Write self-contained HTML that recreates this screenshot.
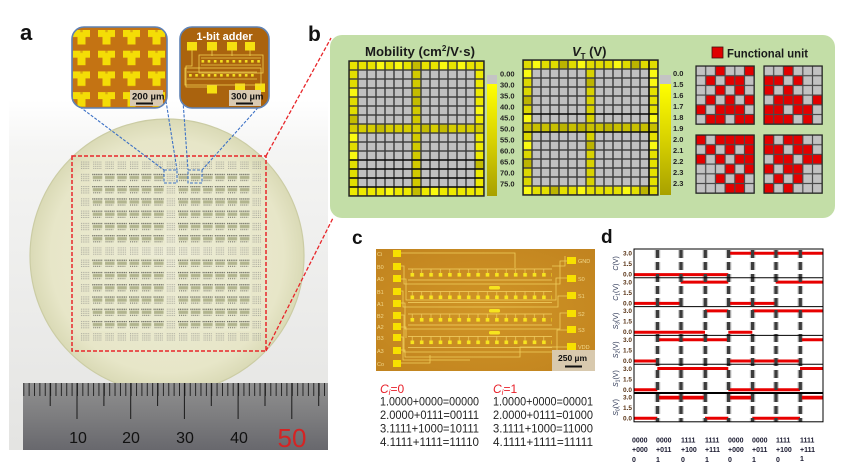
<!DOCTYPE html>
<html><head><meta charset="utf-8">
<style>
html,body{margin:0;padding:0;background:#fff;}
svg{display:block;}
text{font-family:"Liberation Sans",Arial,sans-serif;}
</style></head><body>
<svg width="844" height="470" viewBox="0 0 844 470" xmlns="http://www.w3.org/2000/svg">
<defs>
 <linearGradient id="photoBg" x1="0" y1="0" x2="0" y2="1">
  <stop offset="0" stop-color="#ffffff"/>
  <stop offset="0.15" stop-color="#f4f4f3"/>
  <stop offset="1" stop-color="#e4e4e2"/>
 </linearGradient>
 <radialGradient id="waf" cx="0.5" cy="0.5" r="0.5">
  <stop offset="0" stop-color="#edecd6"/>
  <stop offset="0.85" stop-color="#e7e6c8"/>
  <stop offset="1" stop-color="#dadab6"/>
 </radialGradient>
 <linearGradient id="rul" x1="0" y1="0" x2="0" y2="1">
  <stop offset="0" stop-color="#909090"/>
  <stop offset="0.5" stop-color="#7d7d7f"/>
  <stop offset="1" stop-color="#68686d"/>
 </linearGradient>
 <linearGradient id="cb" x1="0" y1="0" x2="0" y2="1">
  <stop offset="0" stop-color="#ffff00"/>
  <stop offset="0.5" stop-color="#d8d200"/>
  <stop offset="1" stop-color="#a8a000"/>
 </linearGradient>
 <radialGradient id="cph" cx="0.5" cy="0.5" r="0.7">
  <stop offset="0" stop-color="#d09526"/>
  <stop offset="1" stop-color="#c1831f"/>
 </radialGradient>
 <pattern id="tick" x="23.3" y="383" width="5.37" height="30" patternUnits="userSpaceOnUse">
  <rect x="0" y="0" width="0.9" height="13" fill="#1c1c1c"/>
 </pattern>
 <pattern id="dieT" x="79" y="159.6" width="12.26" height="12.26" patternUnits="userSpaceOnUse">
  <g stroke="#a2a298" stroke-width="1" stroke-dasharray="0.9 0.9">
   <line x1="2" y1="2.5" x2="10.5" y2="2.5"/>
   <line x1="2" y1="4.6" x2="10.5" y2="4.6"/>
   <line x1="2" y1="6.7" x2="10.5" y2="6.7"/>
   <line x1="2" y1="8.8" x2="10.5" y2="8.8"/>
  </g>
 </pattern>
 <pattern id="dieA" x="79" y="159.6" width="12.26" height="12.26" patternUnits="userSpaceOnUse">
  <line x1="1" y1="2.6" x2="11" y2="2.6" stroke="#5f5f56" stroke-width="1.2" stroke-dasharray="1.1 0.7"/>
  <rect x="1.5" y="4" width="9.5" height="3.2" fill="#b2b58f"/>
  <line x1="2" y1="8.6" x2="10" y2="8.6" stroke="#74746a" stroke-width="1.1" stroke-dasharray="1 0.9"/>
 </pattern>
 <pattern id="ypad" x="73" y="30" width="25" height="20.7" patternUnits="userSpaceOnUse">
  <rect x="0" y="0" width="17" height="7" fill="#f4dd06"/>
  <rect x="4.5" y="6" width="8" height="8.5" fill="#f4dd06"/>
  <rect x="7.3" y="0" width="2.4" height="2.2" fill="#d8a810"/>
 </pattern>
 <pattern id="ch2" x="200" y="57" width="6.2" height="14" patternUnits="userSpaceOnUse">
  <line x1="0" y1="1" x2="6.2" y2="1" stroke="#f0d050" stroke-width="0.7"/>
  <rect x="1.5" y="3" width="2.6" height="2.6" fill="#f4e020"/>
  <line x1="0" y1="8" x2="6.2" y2="8" stroke="#f0d050" stroke-width="0.7"/>
 </pattern>
 <pattern id="chain" x="408" y="268" width="9.4" height="22.5" patternUnits="userSpaceOnUse">
  <line x1="0" y1="1" x2="9.4" y2="1" stroke="#f2d060" stroke-width="0.8"/>
  <line x1="4.2" y1="1" x2="4.2" y2="5" stroke="#f2d060" stroke-width="0.7"/>
  <rect x="2.5" y="5" width="3.6" height="3.6" fill="#f7e41e"/>
  <line x1="0" y1="12" x2="9.4" y2="12" stroke="#f2d060" stroke-width="0.8"/>
 </pattern>
 <pattern id="hg" x="0" y="0" width="9" height="9" patternUnits="userSpaceOnUse">
  <rect x="0" y="0" width="9" height="9" fill="none" stroke="#3a3a3a" stroke-width="1.4"/>
 </pattern>
 <pattern id="fg" x="0" y="0" width="9.7" height="9.7" patternUnits="userSpaceOnUse">
  <rect x="0" y="0" width="9.7" height="9.7" fill="none" stroke="#4a4a4a" stroke-width="1.2"/>
 </pattern>
</defs>

<!-- ================= Panel a ================= -->
<rect x="9" y="100" width="319" height="350" fill="url(#photoBg)"/>
<circle cx="167" cy="256" r="137" fill="url(#waf)" stroke="#cbcca4" stroke-width="1.2"/>
<rect x="79" y="159.6" width="184" height="184" fill="url(#dieT)"/>
<g fill="#eaeacf">
 <rect x="91.3" y="171.9" width="73.5" height="73.5"/>
 <rect x="177.1" y="171.9" width="73.5" height="73.5"/>
 <rect x="91.3" y="257.7" width="73.5" height="73.5"/>
 <rect x="177.1" y="257.7" width="73.5" height="73.5"/>
</g>
<g fill="url(#dieA)">
 <rect x="91.3" y="171.9" width="73.5" height="73.5"/>
 <rect x="177.1" y="171.9" width="73.5" height="73.5"/>
 <rect x="91.3" y="257.7" width="73.5" height="73.5"/>
 <rect x="177.1" y="257.7" width="73.5" height="73.5"/>
</g>
<rect x="72" y="156" width="194" height="195" fill="none" stroke="#e8262a" stroke-width="1.5" stroke-dasharray="4 2"/>
<g stroke="#e8262a" stroke-width="1.3" stroke-dasharray="4 2">
 <line x1="266" y1="156" x2="331" y2="38"/>
 <line x1="266" y1="351" x2="333" y2="218"/>
</g>
<g fill="none" stroke="#3d72c6" stroke-width="1.1" stroke-dasharray="3 1.5">
 <rect x="164" y="170" width="13" height="13"/>
 <rect x="188" y="170" width="14" height="13"/>
 <line x1="80" y1="107" x2="164" y2="170"/>
 <line x1="166" y1="101" x2="177" y2="170"/>
 <line x1="183" y1="101" x2="188" y2="170"/>
 <line x1="264" y1="101" x2="202" y2="170"/>
</g>

<!-- ruler -->
<rect x="23" y="383" width="305" height="67" fill="url(#rul)"/>
<rect x="23.3" y="383" width="304" height="13" fill="url(#tick)"/>
<g stroke="#1a1a1a" stroke-width="1">
 <line x1="50.2" y1="383" x2="50.2" y2="406"/>
 <line x1="103.9" y1="383" x2="103.9" y2="406"/>
 <line x1="157.6" y1="383" x2="157.6" y2="406"/>
 <line x1="211.3" y1="383" x2="211.3" y2="406"/>
 <line x1="265" y1="383" x2="265" y2="406"/>
 <line x1="318.7" y1="383" x2="318.7" y2="406"/>
 <line x1="77" y1="383" x2="77" y2="419"/>
 <line x1="130.7" y1="383" x2="130.7" y2="419"/>
 <line x1="184.4" y1="383" x2="184.4" y2="419"/>
 <line x1="238.1" y1="383" x2="238.1" y2="419"/>
 <line x1="291.8" y1="383" x2="291.8" y2="419"/>
</g>
<g font-size="16" fill="#111" text-anchor="middle">
 <text x="78" y="443">10</text>
 <text x="131" y="443">20</text>
 <text x="185" y="443">30</text>
 <text x="239" y="443">40</text>
</g>
<text x="292" y="447" font-size="26" fill="#d42424" text-anchor="middle">50</text>

<!-- inset 1 -->
<g>
 <rect x="72" y="27" width="95" height="81" rx="12" fill="#c47313"/>
 <clipPath id="ci1"><rect x="72" y="27" width="95" height="81" rx="12"/></clipPath>
 <rect x="72" y="27" width="95" height="81" fill="url(#ypad)" clip-path="url(#ci1)"/>
 <rect x="130" y="90" width="33" height="16" fill="#d9cab2"/>
 <text x="132" y="99.5" font-size="9.5" font-weight="bold" fill="#111">200 µm</text>
 <rect x="136" y="102.5" width="17" height="2" fill="#111"/>
 <rect x="72" y="27" width="95" height="81" rx="12" fill="none" stroke="#5f82b4" stroke-width="1.6"/>
</g>
<!-- inset 2 -->
<g>
 <rect x="180" y="27" width="89" height="81" rx="12" fill="#aa630e"/>
 <text x="224.5" y="40" font-size="11" font-weight="bold" fill="#ffffff" text-anchor="middle">1-bit adder</text>
 <g fill="#f5e010">
  <rect x="187" y="42" width="10" height="8.5"/>
  <rect x="207" y="42" width="10" height="8.5"/>
  <rect x="227" y="42" width="10" height="8.5"/>
  <rect x="245" y="42" width="10" height="8.5"/>
  <rect x="207" y="85" width="10" height="8.5"/>
  <rect x="235" y="83.5" width="10" height="8.5"/>
  <rect x="255" y="83.5" width="10" height="8.5"/>
 </g>
 <rect x="201" y="57" width="60" height="14" fill="url(#ch2)"/>
 <rect x="187" y="69" width="70" height="14" fill="url(#ch2)"/>
 <g fill="none" stroke="#f0d050" stroke-width="0.8">
  <rect x="199" y="55" width="64" height="18"/>
  <rect x="185" y="68" width="76" height="17"/>
  <polyline points="192,50 192,66 186,66 186,87 207,87"/>
  <polyline points="212,50 212,56"/>
  <polyline points="232,50 232,56"/>
  <polyline points="250,50 250,56"/>
 </g>
 <rect x="229" y="90" width="32" height="16" fill="#d9cab2"/>
 <text x="231" y="99.5" font-size="9.5" font-weight="bold" fill="#111">300 µm</text>
 <rect x="236" y="102.5" width="17" height="2" fill="#111"/>
 <rect x="180" y="27" width="89" height="81" rx="12" fill="none" stroke="#5f82b4" stroke-width="1.6"/>
</g>

<text x="20" y="40" font-size="22" font-weight="bold" fill="#111">a</text>
<text x="308" y="41" font-size="21" font-weight="bold" fill="#111">b</text>

<!-- ================= Panel b ================= -->
<rect x="330" y="35" width="505" height="183" rx="12" fill="#c3dea7"/>
<text x="365" y="56" font-size="13" font-weight="bold" fill="#1a1a1a" textLength="110" lengthAdjust="spacingAndGlyphs">Mobility (cm<tspan font-size="8" dy="-5">2</tspan><tspan dy="5">/V·s)</tspan></text>
<text x="572" y="56" font-size="13" font-weight="bold" fill="#1a1a1a"><tspan font-style="italic">V</tspan><tspan font-size="8" dy="3">T</tspan><tspan dy="-3"> (V)</tspan></text>

<!-- heatmap mobility -->
<g transform="translate(349,61)">
 <rect x="0" y="0" width="135" height="135" fill="#c0c0c0"/>
 <rect x="0" y="0" width="135" height="9" fill="#e8e400"/>
 <rect x="0" y="126" width="135" height="9" fill="#eeea00"/>
 <rect x="0" y="9" width="9" height="117" fill="#e2de00"/>
 <rect x="126" y="9" width="9" height="117" fill="#eeea00"/>
 <rect x="63" y="9" width="9" height="117" fill="#d2ca00"/>
 <rect x="0" y="63" width="135" height="9" fill="#d6ce00"/>
 <g fill="#fafa10">
  <rect x="27" y="0" width="9" height="9"/><rect x="45" y="0" width="9" height="9"/>
  <rect x="90" y="0" width="9" height="9"/><rect x="108" y="0" width="9" height="9"/>
  <rect x="81" y="126" width="9" height="9"/><rect x="36" y="126" width="9" height="9"/>
  <rect x="0" y="27" width="9" height="9"/><rect x="0" y="72" width="9" height="9"/>
  <rect x="0" y="90" width="9" height="9"/><rect x="126" y="45" width="9" height="9"/>
 </g>
 <g fill="#c4bc00">
  <rect x="63" y="0" width="9" height="9"/><rect x="63" y="27" width="9" height="18"/>
  <rect x="27" y="63" width="9" height="9"/><rect x="72" y="63" width="9" height="9"/>
  <rect x="90" y="63" width="9" height="9"/><rect x="63" y="126" width="9" height="9"/>
  <rect x="0" y="54" width="9" height="9"/><rect x="126" y="99" width="9" height="9"/>
 </g>
 <rect x="0" y="0" width="135" height="135" fill="url(#hg)"/>
 <g stroke="#000" stroke-width="1.2">
  <line x1="0" y1="99" x2="135" y2="99"/><line x1="0" y1="108" x2="135" y2="108"/>
  <line x1="0" y1="117" x2="135" y2="117"/><line x1="0" y1="126" x2="135" y2="126"/>
 </g>
 <rect x="0" y="0" width="135" height="135" fill="none" stroke="#222" stroke-width="1.4"/>
</g>
<rect x="487" y="75" width="10" height="9" fill="#c4c4c4"/>
<rect x="487" y="84" width="10" height="112" fill="url(#cb)"/>
<g font-size="7.5" font-weight="bold" fill="#222">
 <text x="500" y="76.7">0.00</text>
 <text x="500" y="87.7">30.0</text>
 <text x="500" y="98.7">35.0</text>
 <text x="500" y="109.7">40.0</text>
 <text x="500" y="120.7">45.0</text>
 <text x="500" y="131.7">50.0</text>
 <text x="500" y="142.7">55.0</text>
 <text x="500" y="153.7">60.0</text>
 <text x="500" y="164.7">65.0</text>
 <text x="500" y="175.7">70.0</text>
 <text x="500" y="186.7">75.0</text>
</g>

<!-- heatmap VT -->
<g transform="translate(523,60)">
 <rect x="0" y="0" width="135" height="135" fill="#c0c0c0"/>
 <rect x="0" y="0" width="135" height="9" fill="#e0dc00"/>
 <rect x="0" y="126" width="135" height="9" fill="#e4e000"/>
 <rect x="0" y="9" width="9" height="117" fill="#dcd800"/>
 <rect x="126" y="9" width="9" height="117" fill="#e6e200"/>
 <rect x="63" y="9" width="9" height="117" fill="#d8d200"/>
 <rect x="0" y="63" width="135" height="9" fill="#c8c000"/>
 <g fill="#fafa12">
  <rect x="9" y="0" width="9" height="9"/><rect x="54" y="0" width="9" height="9"/>
  <rect x="90" y="0" width="9" height="9"/><rect x="0" y="126" width="9" height="9"/>
  <rect x="54" y="126" width="9" height="9"/><rect x="99" y="126" width="9" height="9"/>
  <rect x="0" y="9" width="9" height="9"/><rect x="0" y="54" width="9" height="9"/>
  <rect x="0" y="81" width="9" height="9"/><rect x="126" y="9" width="9" height="18"/>
  <rect x="126" y="54" width="9" height="9"/><rect x="126" y="81" width="9" height="9"/>
 </g>
 <g fill="#bcb400">
  <rect x="36" y="0" width="9" height="9"/><rect x="108" y="0" width="9" height="9"/>
  <rect x="27" y="126" width="9" height="9"/><rect x="117" y="126" width="9" height="9"/>
  <rect x="0" y="36" width="9" height="9"/><rect x="0" y="99" width="9" height="9"/>
  <rect x="63" y="18" width="9" height="9"/><rect x="63" y="81" width="9" height="9"/>
  <rect x="36" y="63" width="9" height="9"/><rect x="81" y="63" width="9" height="9"/>
  <rect x="54" y="63" width="9" height="9"/>
 </g>
 <rect x="0" y="0" width="135" height="135" fill="url(#hg)"/>
 <g stroke="#000" stroke-width="1.3">
  <line x1="0" y1="54" x2="135" y2="54"/><line x1="0" y1="72" x2="135" y2="72"/>
  <line x1="126" y1="0" x2="126" y2="135"/>
 </g>
 <rect x="0" y="0" width="135" height="135" fill="none" stroke="#222" stroke-width="1.4"/>
</g>
<rect x="660" y="75" width="11" height="9" fill="#c4c4c4"/>
<rect x="660" y="84" width="11" height="111" fill="url(#cb)"/>
<g font-size="7.5" font-weight="bold" fill="#222">
 <text x="673" y="76">0.0</text>
 <text x="673" y="87">1.5</text>
 <text x="673" y="98">1.6</text>
 <text x="673" y="109">1.7</text>
 <text x="673" y="120">1.8</text>
 <text x="673" y="131">1.9</text>
 <text x="673" y="142">2.0</text>
 <text x="673" y="153">2.1</text>
 <text x="673" y="164">2.2</text>
 <text x="673" y="175">2.3</text>
 <text x="673" y="186">2.3</text>
</g>

<!-- functional unit legend -->
<rect x="712" y="47" width="11" height="11" fill="#e00000" stroke="#401010" stroke-width="0.8"/>
<text x="727" y="57.5" font-size="12" font-weight="bold" fill="#1a1a1a" textLength="81" lengthAdjust="spacingAndGlyphs">Functional unit</text>

<!-- grid 1 -->
<g transform="translate(696,66)">
 <rect width="58.2" height="58.2" fill="#c2c2c2"/>
 <g fill="#e20000">
  <rect x="19.4" y="0" width="9.7" height="9.7"/><rect x="48.5" y="0" width="9.7" height="9.7"/>
  <rect x="9.7" y="9.7" width="9.7" height="9.7"/><rect x="29.1" y="9.7" width="9.7" height="9.7"/><rect x="38.8" y="9.7" width="9.7" height="9.7"/>
  <rect x="19.4" y="19.4" width="9.7" height="9.7"/><rect x="38.8" y="19.4" width="9.7" height="9.7"/>
  <rect x="9.7" y="29.1" width="9.7" height="9.7"/><rect x="29.1" y="29.1" width="9.7" height="9.7"/><rect x="48.5" y="29.1" width="9.7" height="9.7"/>
  <rect x="0" y="38.8" width="9.7" height="9.7"/><rect x="19.4" y="38.8" width="9.7" height="9.7"/><rect x="29.1" y="38.8" width="9.7" height="9.7"/><rect x="38.8" y="38.8" width="9.7" height="9.7"/>
  <rect x="9.7" y="48.5" width="9.7" height="9.7"/><rect x="19.4" y="48.5" width="9.7" height="9.7"/><rect x="38.8" y="48.5" width="9.7" height="9.7"/><rect x="48.5" y="48.5" width="9.7" height="9.7"/>
 </g>
 <rect width="58.2" height="58.2" fill="url(#fg)"/>
 <rect width="58.2" height="58.2" fill="none" stroke="#222" stroke-width="1.2"/>
</g>
<!-- grid 2 -->
<g transform="translate(764,66)">
 <rect width="58.2" height="58.2" fill="#c2c2c2"/>
 <g fill="#e20000">
  <rect x="19.4" y="0" width="9.7" height="9.7"/>
  <rect x="0" y="9.7" width="9.7" height="9.7"/><rect x="9.7" y="9.7" width="9.7" height="9.7"/><rect x="29.1" y="9.7" width="9.7" height="9.7"/>
  <rect x="0" y="19.4" width="9.7" height="9.7"/><rect x="19.4" y="19.4" width="9.7" height="9.7"/>
  <rect x="9.7" y="29.1" width="9.7" height="9.7"/><rect x="19.4" y="29.1" width="9.7" height="9.7"/><rect x="29.1" y="29.1" width="9.7" height="9.7"/><rect x="48.5" y="29.1" width="9.7" height="9.7"/>
  <rect x="0" y="38.8" width="9.7" height="9.7"/><rect x="9.7" y="38.8" width="9.7" height="9.7"/><rect x="29.1" y="38.8" width="9.7" height="9.7"/><rect x="38.8" y="38.8" width="9.7" height="9.7"/>
  <rect x="0" y="48.5" width="9.7" height="9.7"/><rect x="9.7" y="48.5" width="9.7" height="9.7"/><rect x="19.4" y="48.5" width="9.7" height="9.7"/><rect x="38.8" y="48.5" width="9.7" height="9.7"/>
 </g>
 <rect width="58.2" height="58.2" fill="url(#fg)"/>
 <rect width="58.2" height="58.2" fill="none" stroke="#222" stroke-width="1.2"/>
</g>
<!-- grid 3 -->
<g transform="translate(696,135)">
 <rect width="58.2" height="58.2" fill="#c2c2c2"/>
 <g fill="#e20000">
  <rect x="0" y="0" width="9.7" height="9.7"/><rect x="19.4" y="0" width="9.7" height="9.7"/><rect x="29.1" y="0" width="9.7" height="9.7"/><rect x="38.8" y="0" width="9.7" height="9.7"/><rect x="48.5" y="0" width="9.7" height="9.7"/>
  <rect x="9.7" y="9.7" width="9.7" height="9.7"/><rect x="29.1" y="9.7" width="9.7" height="9.7"/><rect x="48.5" y="9.7" width="9.7" height="9.7"/>
  <rect x="0" y="19.4" width="9.7" height="9.7"/><rect x="19.4" y="19.4" width="9.7" height="9.7"/><rect x="38.8" y="19.4" width="9.7" height="9.7"/><rect x="48.5" y="19.4" width="9.7" height="9.7"/>
  <rect x="29.1" y="29.1" width="9.7" height="9.7"/><rect x="48.5" y="29.1" width="9.7" height="9.7"/>
  <rect x="19.4" y="38.8" width="9.7" height="9.7"/><rect x="38.8" y="38.8" width="9.7" height="9.7"/>
  <rect x="29.1" y="48.5" width="9.7" height="9.7"/><rect x="38.8" y="48.5" width="9.7" height="9.7"/>
 </g>
 <rect width="58.2" height="58.2" fill="url(#fg)"/>
 <rect width="58.2" height="58.2" fill="none" stroke="#222" stroke-width="1.2"/>
</g>
<!-- grid 4 -->
<g transform="translate(764,135)">
 <rect width="58.2" height="58.2" fill="#c2c2c2"/>
 <g fill="#e20000">
  <rect x="0" y="0" width="9.7" height="9.7"/><rect x="19.4" y="0" width="9.7" height="9.7"/><rect x="29.1" y="0" width="9.7" height="9.7"/>
  <rect x="0" y="9.7" width="9.7" height="9.7"/><rect x="9.7" y="9.7" width="9.7" height="9.7"/><rect x="29.1" y="9.7" width="9.7" height="9.7"/><rect x="38.8" y="9.7" width="9.7" height="9.7"/>
  <rect x="9.7" y="19.4" width="9.7" height="9.7"/><rect x="19.4" y="19.4" width="9.7" height="9.7"/><rect x="38.8" y="19.4" width="9.7" height="9.7"/><rect x="48.5" y="19.4" width="9.7" height="9.7"/>
  <rect x="0" y="29.1" width="9.7" height="9.7"/><rect x="19.4" y="29.1" width="9.7" height="9.7"/><rect x="29.1" y="29.1" width="9.7" height="9.7"/>
  <rect x="9.7" y="38.8" width="9.7" height="9.7"/><rect x="29.1" y="38.8" width="9.7" height="9.7"/>
  <rect x="0" y="48.5" width="9.7" height="9.7"/><rect x="19.4" y="48.5" width="9.7" height="9.7"/>
 </g>
 <rect width="58.2" height="58.2" fill="url(#fg)"/>
 <rect width="58.2" height="58.2" fill="none" stroke="#222" stroke-width="1.2"/>
</g>

<!-- ================= Panel c ================= -->
<text x="352" y="244" font-size="19" font-weight="bold" fill="#111">c</text>
<rect x="376" y="249" width="219" height="122" fill="url(#cph)"/>
<g fill="#f7e000">
 <rect x="393" y="250" width="8" height="7"/><rect x="393" y="263" width="8" height="7"/>
 <rect x="393" y="275" width="8" height="7"/><rect x="393" y="288" width="8" height="7"/>
 <rect x="393" y="300" width="8" height="7"/><rect x="393" y="312" width="8" height="7"/>
 <rect x="393" y="323" width="8" height="7"/><rect x="393" y="334" width="8" height="7"/>
 <rect x="393" y="347" width="8" height="7"/><rect x="393" y="360" width="8" height="7"/>
 <rect x="567" y="257" width="9" height="7"/><rect x="567" y="275" width="9" height="7"/>
 <rect x="567" y="292" width="9" height="7"/><rect x="567" y="310" width="9" height="7"/>
 <rect x="567" y="326" width="9" height="7"/><rect x="567" y="343" width="9" height="7"/>
</g>
<g font-size="5.5" fill="#f3d98a">
 <text x="377" y="256">Ci</text><text x="377" y="269">B0</text>
 <text x="377" y="281">A0</text><text x="377" y="294">B1</text>
 <text x="377" y="306">A1</text><text x="377" y="318">B2</text>
 <text x="377" y="329">A2</text><text x="377" y="340">B3</text>
 <text x="377" y="353">A3</text><text x="377" y="366">Co</text>
 <text x="578" y="263">GND</text><text x="578" y="281">S0</text>
 <text x="578" y="298">S1</text><text x="578" y="316">S2</text>
 <text x="578" y="332">S3</text><text x="578" y="349">VDD</text>
</g>
<g fill="url(#chain)">
 <rect x="408" y="268" width="144" height="15"/>
 <rect x="408" y="290.5" width="144" height="15"/>
 <rect x="408" y="313" width="144" height="15"/>
 <rect x="408" y="335.5" width="144" height="15"/>
</g>
<g fill="none" stroke="#f0cf5c" stroke-width="0.8">
 <polyline points="401,253 515,253 515,268"/>
 <polyline points="401,266 404,266 404,284 560,284 560,261 567,261"/>
 <polyline points="401,279 406,279 406,300 556,300 556,278 567,278"/>
 <polyline points="401,291 403,291 403,307 558,307 558,296 567,296"/>
 <polyline points="401,303 405,303 405,329 560,329 560,313 567,313"/>
 <polyline points="401,315 404,315 404,352 557,352 557,330 567,330"/>
 <polyline points="401,327 406,327 406,338"/>
 <polyline points="401,337 403,337 403,360 470,360"/>
 <polyline points="401,350 405,350 405,357 520,357 520,347 567,347"/>
 <polyline points="401,363 430,363 430,355"/>
 <polyline points="552,266 565,266 565,256"/>
</g>
<g fill="#f7e41e">
 <rect x="489" y="286" width="11" height="3.5" rx="1.5"/>
 <rect x="489" y="309" width="11" height="3.5" rx="1.5"/>
 <rect x="489" y="331" width="11" height="3.5" rx="1.5"/>
</g>
<rect x="552" y="350" width="43" height="21" fill="#d8c9ae"/>
<text x="558" y="361" font-size="8.5" font-weight="bold" fill="#111">250 µm</text>
<rect x="565" y="365.5" width="17" height="2" fill="#111"/>

<g font-size="12" fill="#e8202a" font-style="italic">
 <text x="380" y="393">C<tspan font-size="8" dy="2">i</tspan><tspan dy="-2" font-style="normal">=0</tspan></text>
 <text x="493" y="393">C<tspan font-size="8" dy="2">i</tspan><tspan dy="-2" font-style="normal">=1</tspan></text>
</g>
<g font-size="11.5" fill="#222">
 <text x="380" y="405.5" textLength="99" lengthAdjust="spacingAndGlyphs">1.0000+0000=00000</text>
 <text x="380" y="419" textLength="99" lengthAdjust="spacingAndGlyphs">2.0000+0111=00111</text>
 <text x="380" y="432.5" textLength="99" lengthAdjust="spacingAndGlyphs">3.1111+1000=10111</text>
 <text x="380" y="446" textLength="99" lengthAdjust="spacingAndGlyphs">4.1111+1111=11110</text>
 <text x="493" y="405.5" textLength="100" lengthAdjust="spacingAndGlyphs">1.0000+0000=00001</text>
 <text x="493" y="419" textLength="100" lengthAdjust="spacingAndGlyphs">2.0000+0111=01000</text>
 <text x="493" y="432.5" textLength="100" lengthAdjust="spacingAndGlyphs">3.1111+1000=11000</text>
 <text x="493" y="446" textLength="100" lengthAdjust="spacingAndGlyphs">4.1111+1111=11111</text>
</g>

<!-- ================= Panel d ================= -->
<text x="601" y="243" font-size="19" font-weight="bold" fill="#111">d</text>
<rect x="634" y="249" width="189" height="172.8" fill="#fff"/>
<!-- dashed verticals (drawn under red) -->
<g stroke="#c4c4c4" stroke-width="5.6" stroke-dasharray="8 4">
 <line x1="657.5" y1="250" x2="657.5" y2="422"/>
 <line x1="681" y1="250" x2="681" y2="422"/>
 <line x1="705.3" y1="250" x2="705.3" y2="422"/>
 <line x1="728.6" y1="250" x2="728.6" y2="422"/>
 <line x1="752.6" y1="250" x2="752.6" y2="422"/>
 <line x1="776" y1="250" x2="776" y2="422"/>
 <line x1="800.3" y1="250" x2="800.3" y2="422"/>
</g>
<!-- red traces -->
<g stroke="#e80000" stroke-width="3" fill="none">
 <line x1="634" y1="274.6" x2="728.3" y2="274.6"/>
 <line x1="728.3" y1="253.3" x2="823" y2="253.3"/>

 <line x1="634" y1="303.4" x2="680.7" y2="303.4"/>
 <line x1="680.7" y1="282.1" x2="728.3" y2="282.1"/>
 <line x1="728.3" y1="303.4" x2="775.7" y2="303.4"/>
 <line x1="775.7" y1="282.1" x2="823" y2="282.1"/>

 <line x1="634" y1="332.2" x2="705" y2="332.2"/>
 <line x1="705" y1="310.9" x2="728.3" y2="310.9"/>
 <line x1="728.3" y1="332.2" x2="752.3" y2="332.2"/>
 <line x1="752.3" y1="310.9" x2="823" y2="310.9"/>

 <line x1="634" y1="361" x2="657.3" y2="361"/>
 <line x1="657.3" y1="339.7" x2="728.3" y2="339.7"/>
 <line x1="728.3" y1="361" x2="800" y2="361"/>
 <line x1="800" y1="339.7" x2="823" y2="339.7"/>

 <line x1="634" y1="389.8" x2="657.3" y2="389.8"/>
 <line x1="657.3" y1="368.5" x2="728.3" y2="368.5"/>
 <line x1="728.3" y1="389.8" x2="800" y2="389.8"/>
 <line x1="800" y1="368.5" x2="823" y2="368.5"/>

 <line x1="634" y1="418.3" x2="657.3" y2="418.3"/>
 <line x1="657.3" y1="397.6" x2="705" y2="397.6" stroke-width="3.8"/>
 <line x1="705" y1="418.3" x2="728.3" y2="418.3"/>
 <line x1="728.3" y1="397.6" x2="752.3" y2="397.6" stroke-width="3.8"/>
 <line x1="752.3" y1="418.3" x2="800" y2="418.3"/>
 <line x1="800" y1="397.6" x2="823" y2="397.6" stroke-width="3.8"/>
</g>
<g stroke="#3c3c3c" stroke-width="3.2" stroke-dasharray="8 4">
 <line x1="657.5" y1="250" x2="657.5" y2="422"/>
 <line x1="681" y1="250" x2="681" y2="422"/>
 <line x1="705.3" y1="250" x2="705.3" y2="422"/>
 <line x1="728.6" y1="250" x2="728.6" y2="422"/>
 <line x1="752.6" y1="250" x2="752.6" y2="422"/>
 <line x1="776" y1="250" x2="776" y2="422"/>
 <line x1="800.3" y1="250" x2="800.3" y2="422"/>
</g>
<!-- frames -->
<g stroke="#000" stroke-width="1" fill="none">
 <rect x="634" y="249" width="189" height="172.8"/>
 <line x1="634" y1="277.8" x2="823" y2="277.8"/>
 <line x1="634" y1="306.6" x2="823" y2="306.6"/>
 <line x1="634" y1="335.4" x2="823" y2="335.4"/>
 <line x1="634" y1="364.2" x2="823" y2="364.2"/>
 <line x1="634" y1="393" x2="823" y2="393" stroke-width="2"/>
</g>
<!-- y tick labels -->
<g font-size="6.5" font-weight="bold" fill="#5a3416" text-anchor="end">
 <text x="632" y="255.6">3.0</text><text x="632" y="266.1">1.5</text><text x="632" y="276.6">0.0</text>
 <text x="632" y="284.4">3.0</text><text x="632" y="294.9">1.5</text><text x="632" y="305.4">0.0</text>
 <text x="632" y="313.2">3.0</text><text x="632" y="323.7">1.5</text><text x="632" y="334.2">0.0</text>
 <text x="632" y="342">3.0</text><text x="632" y="352.5">1.5</text><text x="632" y="363">0.0</text>
 <text x="632" y="370.8">3.0</text><text x="632" y="381.3">1.5</text><text x="632" y="391.8">0.0</text>
 <text x="632" y="399.6">3.0</text><text x="632" y="410.1">1.5</text><text x="632" y="420.6">0.0</text>
</g>
<!-- y axis labels -->
<g font-size="7" fill="#2a3452" text-anchor="middle">
 <text transform="translate(618,263.4) rotate(-90)"><tspan font-style="italic">C</tspan>(V)</text>
 <text transform="translate(618,292.2) rotate(-90)"><tspan font-style="italic">C</tspan><tspan font-size="5" dy="1.5">1</tspan><tspan dy="-1.5">(V)</tspan></text>
 <text transform="translate(618,321) rotate(-90)"><tspan font-style="italic">S</tspan><tspan font-size="5" dy="1.5">3</tspan><tspan dy="-1.5">(V)</tspan></text>
 <text transform="translate(618,349.8) rotate(-90)"><tspan font-style="italic">S</tspan><tspan font-size="5" dy="1.5">2</tspan><tspan dy="-1.5">(V)</tspan></text>
 <text transform="translate(618,378.6) rotate(-90)"><tspan font-style="italic">S</tspan><tspan font-size="5" dy="1.5">1</tspan><tspan dy="-1.5">(V)</tspan></text>
 <text transform="translate(618,407.4) rotate(-90)"><tspan font-style="italic">S</tspan><tspan font-size="5" dy="1.5">0</tspan><tspan dy="-1.5">(V)</tspan></text>
</g>
<!-- x labels -->
<g font-size="7" font-weight="bold" fill="#1a1a30">
 <text x="632" y="442.5">0000</text><text x="632" y="452">+000</text><text x="632" y="462">0</text>
 <text x="656" y="442.5">0000</text><text x="656" y="452">+011</text><text x="656" y="462">1</text>
 <text x="681" y="442.5">1111</text><text x="681" y="452">+100</text><text x="681" y="462">0</text>
 <text x="705" y="442.5">1111</text><text x="705" y="452">+111</text><text x="705" y="462">1</text>
 <text x="728" y="442.5">0000</text><text x="728" y="452">+000</text><text x="728" y="462">0</text>
 <text x="752" y="442.5">0000</text><text x="752" y="452">+011</text><text x="752" y="462">1</text>
 <text x="776" y="442.5">1111</text><text x="776" y="452">+100</text><text x="776" y="462">0</text>
 <text x="800" y="442.5">1111</text><text x="800" y="452">+111</text><text x="800" y="461">1</text>
</g>
</svg>
</body></html>
